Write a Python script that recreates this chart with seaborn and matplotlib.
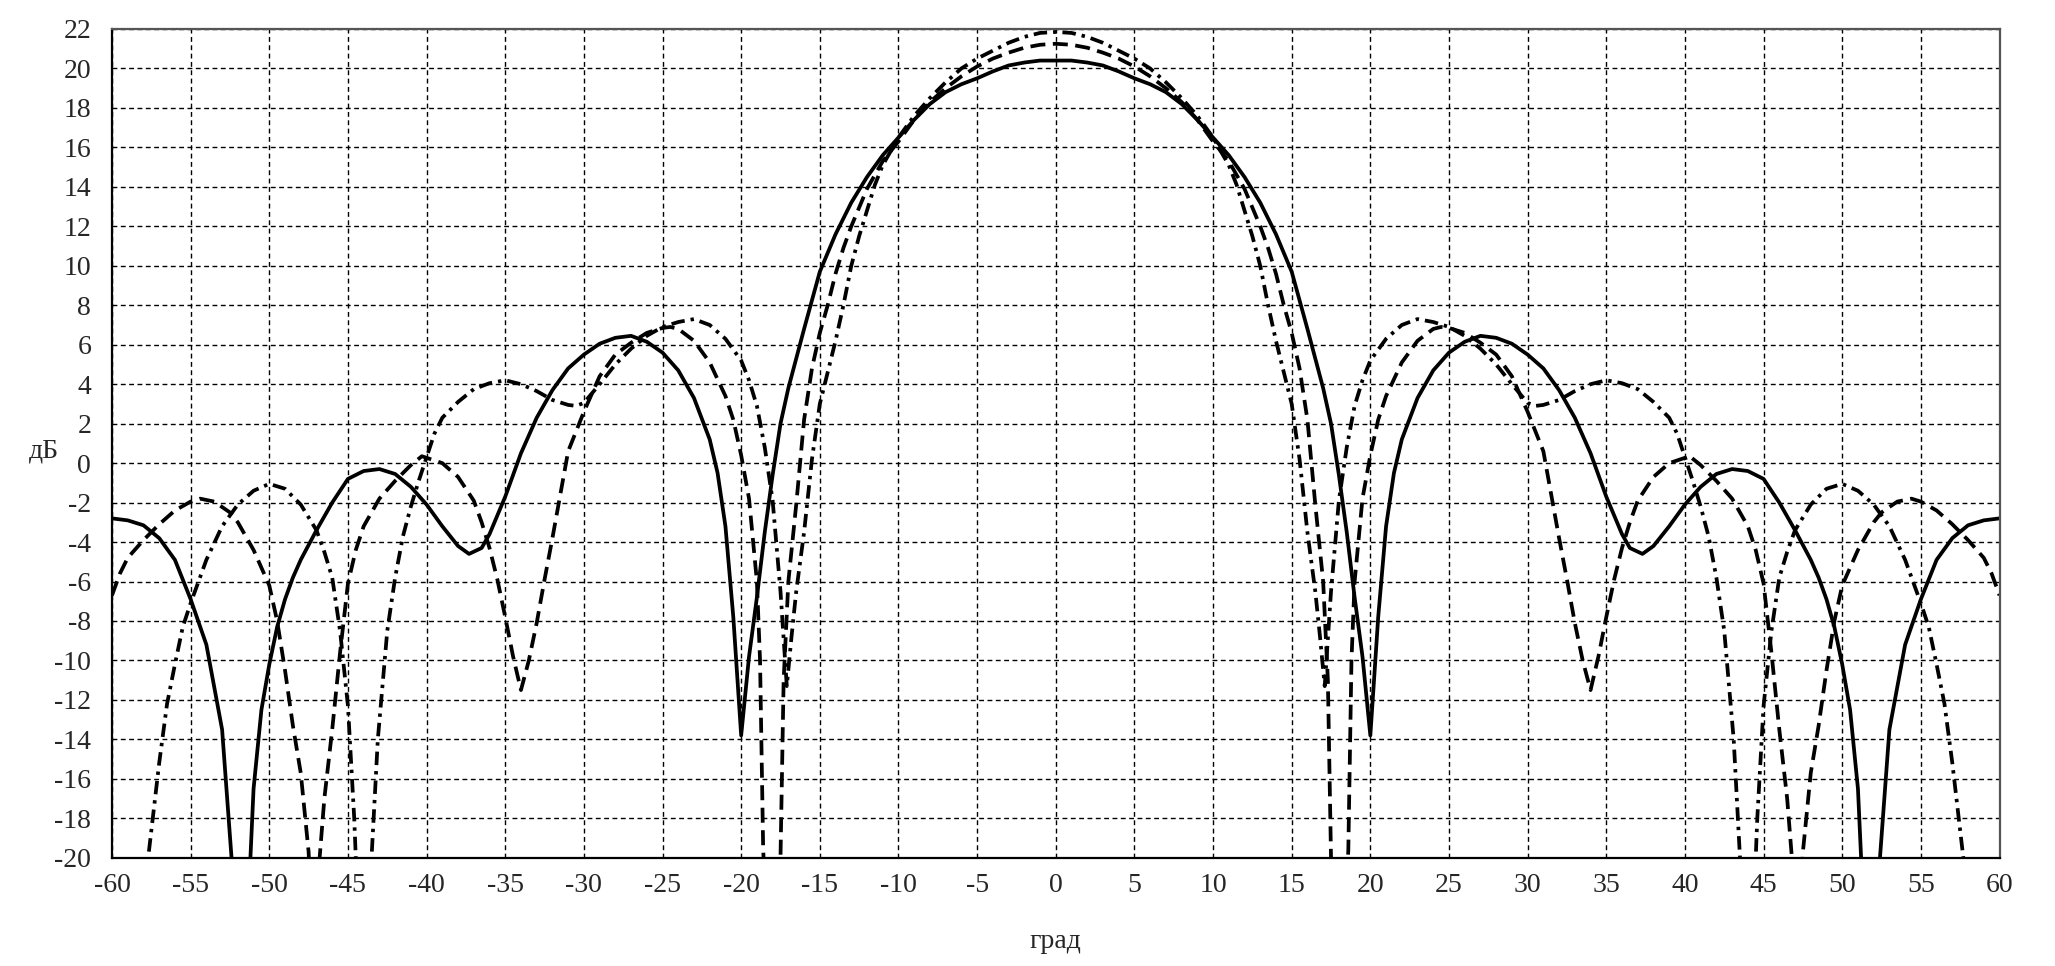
# Диаграммы направленности: три варианта решетки
import matplotlib
matplotlib.use('Agg')
import matplotlib.pyplot as plt
import seaborn as sns
import pandas as pd
import numpy as np

# Левая половина диаграмм (от -60 до 0 град), правая половина симметрична
ugol_1 = [-60, -59, -58, -57, -56, -55, -54, -53, -52.4, -52, -51.5, -51.2, -51, -50.5,
          -50, -49.5, -49, -48.5, -48, -47, -46, -45, -44, -43, -42, -41, -40, -39, -38,
          -37.3, -36.5, -36, -35, -34, -33, -32, -31, -30, -29, -28, -27, -26, -25, -24,
          -23, -22, -21.5, -21, -20.5, -20, -19.5, -19, -18.5, -18, -17.5, -17, -16, -15,
          -14, -13, -12, -11, -10, -9, -8, -7, -6, -5, -4, -3, -2, -1, 0]
db_1 = [-2.8, -2.9, -3.15, -3.8, -4.9, -6.9, -9.2, -13.5, -20, -26, -26, -20, -16.5, -12.5,
        -10.2, -8.3, -6.9, -5.8, -4.9, -3.4, -2.0, -0.8, -0.4, -0.3, -0.55, -1.2, -2.1, -3.2, -4.2,
        -4.6, -4.3, -3.6, -1.7, 0.5, 2.3, 3.7, 4.8, 5.5, 6.05, 6.35, 6.45, 6.15, 5.6, 4.7,
        3.3, 1.2, -0.5, -3.2, -7.8, -13.8, -9.8, -6.8, -3.5, -0.6, 2.0, 3.8, 6.8, 9.7,
        11.6, 13.2, 14.5, 15.6, 16.5, 17.4, 18.2, 18.8, 19.2, 19.5, 19.85, 20.15, 20.3, 20.4, 20.4]

ugol_2 = [-60, -59.5, -59, -58, -57, -56, -55, -54.4, -53.5, -52.5, -52, -51, -50, -49.5,
          -49, -48.5, -48, -47.5, -47.2, -46.8, -46.5, -46, -45.5, -45, -44.5, -44, -43, -42,
          -41, -40.3, -39, -38, -37, -36.5, -36, -35.5, -35, -34.5, -34, -33.5, -33, -32.5,
          -32, -31.5, -31, -30, -29, -28, -27, -26, -25, -24.5, -24, -23, -22, -21, -20.5,
          -20, -19.5, -19, -18.8, -18.6, -18.1, -17.5, -17.3, -17, -16.5, -16, -15.5, -15,
          -14.5, -14, -13.5, -13, -12, -11, -10, -9, -8, -7, -6, -5, -4, -3, -2, -1, 0]
db_2 = [-6.7, -5.6, -4.8, -3.9, -3.1, -2.4, -1.95, -1.8, -1.95, -2.5, -3.0, -4.4, -6.2, -8.0,
        -10.5, -13.3, -15.7, -19.7, -25, -20, -17, -13.5, -9.6, -6.1, -4.4, -3.2, -1.8, -0.9,
        -0.1, 0.35, 0.0, -0.7, -1.9, -3.0, -4.3, -5.9, -7.8, -9.8, -11.5, -10.0, -8.1, -5.9,
        -3.8, -1.6, 0.6, 2.6, 4.4, 5.5, 6.1, 6.6, 6.85, 6.9, 6.8, 6.2, 5.1, 3.4, 2.2,
        0.4, -1.8, -6.0, -10.0, -19.6, -28, -20, -11, -6.0, -2.1, 2.2, 4.8, 6.6,
        8.0, 9.6, 10.9, 12.0, 13.9, 15.3, 16.3, 17.4, 18.3, 19.0, 19.6, 20.1, 20.5, 20.8, 21.05, 21.2, 21.25]

ugol_3 = [-60, -58, -57.7, -57, -56.5, -56, -55.5, -55, -54, -53, -52, -51, -50, -49, -48,
          -47, -46.5, -46, -45.5, -45, -44.6, -44, -43.5, -43.1, -42.5, -42, -41.5, -41, -40.5,
          -40, -39.5, -39, -38, -37, -36, -35, -34, -33, -32, -31, -30.5, -30, -29, -28, -27,
          -26, -25, -24, -23, -22, -21, -20, -19.5, -19, -18.5, -18, -17.5, -17.1, -16.8, -16.5,
          -16, -15.5, -15, -14.5, -14, -13.5, -13, -12.5, -12, -11.5, -11, -10, -9, -8, -7,
          -6, -5, -4, -3, -2, -1, 0]
db_3 = [-30, -26, -20, -15.2, -12.2, -10.2, -8.3, -7.1, -4.9, -3.2, -2.1, -1.4, -1.05, -1.3, -2.1,
        -3.4, -4.5, -5.8, -8.5, -12.3, -18, -30, -20, -14, -8.5, -5.8, -3.7, -2.2, -0.9,
        0.3, 1.5, 2.3, 3.1, 3.75, 4.05, 4.2, 4.0, 3.65, 3.2, 2.95, 2.9, 3.05, 4.0, 5.0, 5.8,
        6.45, 6.9, 7.15, 7.3, 7.0, 6.3, 5.2, 4.2, 2.9, 0.8, -1.9, -6.5, -11.3, -8.8, -6.5,
        -3.5, 0.2, 3.0, 4.6, 6.2, 8.0, 10.0, 11.5, 12.8, 14.1, 15.1, 16.5, 17.6, 18.5, 19.3,
        20.0, 20.5, 20.9, 21.3, 21.6, 21.8, 21.85]


def polnaya(ugol, db):
    # достраиваем правую половину зеркально
    u = np.array(ugol, dtype=float)
    d = np.array(db, dtype=float)
    return (np.concatenate([u, -u[-2::-1]]), np.concatenate([d, d[-2::-1]]))


sns.set_style("white")
plt.rcParams['font.family'] = ['Liberation Serif', 'DejaVu Serif']
plt.rcParams['axes.unicode_minus'] = False

fig = plt.figure(figsize=(20.55, 9.66), dpi=100)
ax = fig.add_axes([0.0545, 0.112, 0.9185, 0.858])

stili = [(db_1, ugol_1, '-'),
         (db_2, ugol_2, (0, (4.0, 2.0))),
         (db_3, ugol_3, (0, (3.6, 1.6, 0.9, 1.6)))]
for db, ugol, ls in stili:
    x, y = polnaya(ugol, db)
    datos = pd.DataFrame({'x': x, 'y': y})
    sns.lineplot(data=datos, x='x', y='y', ax=ax, color='black', linewidth=2.7,
                 linestyle=ls, sort=False, errorbar=None)

ax.set_xlim(-60, 60)
ax.set_ylim(-20, 22)
ax.set_xticks(np.arange(-60, 61, 5))
ax.set_yticks(np.arange(-20, 23, 2))
ax.grid(True, color='black', linewidth=1.0, linestyle=(0, (3.5, 2.5)))
ax.set_axisbelow(True)

for lado in ['top', 'right']:
    ax.spines[lado].set_color('#555555')
    ax.spines[lado].set_linewidth(1.6)
for lado in ['left', 'bottom']:
    ax.spines[lado].set_color('black')
    ax.spines[lado].set_linewidth(1.6)

ax.tick_params(axis='both', direction='out', length=6, width=1.3, color='black',
               labelsize=20)
ax.tick_params(axis='x', pad=5)
ax.tick_params(axis='y', pad=9)

ax.set_xlabel('град', fontsize=20, labelpad=22)
ax.set_ylabel('дБ', fontsize=20, rotation=0, labelpad=0)
ax.yaxis.set_label_coords(-0.036, 0.476)

fig.savefig('out.png', dpi=100)
